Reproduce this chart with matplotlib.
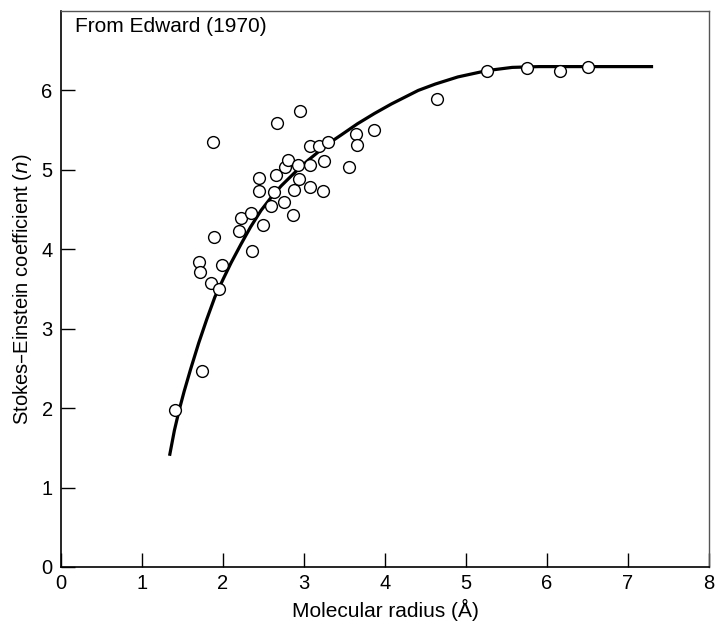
import matplotlib
matplotlib.use("Agg")
import matplotlib.pyplot as plt

plt.rcParams['font.family'] = ['Liberation Sans', 'DejaVu Sans']

# measured points (molecular radius in Angstrom, Stokes-Einstein coefficient n)
radius = [1.41, 1.745, 1.70, 1.71, 1.85, 1.95, 1.99, 1.89, 1.88,
          2.20, 2.22, 2.35, 2.36, 2.49, 2.44, 2.45, 2.59, 2.63, 2.66,
          2.67, 2.75, 2.76, 2.80, 2.86, 2.88, 2.92, 2.94, 2.95,
          3.07, 3.07, 3.08, 3.19, 3.23, 3.25, 3.30, 3.56, 3.64, 3.66,
          3.86, 4.64, 5.26, 5.75, 6.16, 6.51]
coeff = [1.98, 2.47, 3.84, 3.71, 3.57, 3.50, 3.80, 4.16, 5.35,
         4.23, 4.40, 4.46, 3.98, 4.30, 4.90, 4.74, 4.54, 4.72, 4.94,
         5.59, 4.59, 5.04, 5.12, 4.43, 4.75, 5.06, 4.88, 5.74,
         5.30, 5.06, 4.79, 5.30, 4.73, 5.11, 5.35, 5.04, 5.45, 5.31,
         5.50, 5.89, 6.25, 6.28, 6.25, 6.29]

# fitted curve
curve_x = [1.34, 1.40, 1.46, 1.52, 1.60, 1.70, 1.80, 1.90, 2.00, 2.10,
           2.22, 2.34, 2.47, 2.60, 2.72, 2.88, 3.05, 3.30, 3.46, 3.66,
           3.87, 4.08, 4.41, 4.62, 4.90, 5.26, 5.57, 5.90, 7.31]
curve_y = [1.40, 1.72, 1.98, 2.21, 2.49, 2.82, 3.12, 3.40, 3.62, 3.83,
           4.06, 4.28, 4.49, 4.66, 4.80, 4.96, 5.12, 5.33, 5.44, 5.58,
           5.71, 5.83, 6.00, 6.08, 6.17, 6.25, 6.29, 6.30, 6.30]

fig = plt.figure(figsize=(7.15, 6.27), dpi=100)
ax = fig.add_axes([61/715, 60/627, (709-61)/715, (616-60)/627])

ax.plot(curve_x, curve_y, color='black', linewidth=2.3, solid_capstyle='butt',
        solid_joinstyle='round', zorder=2)
ax.plot(radius, coeff, linestyle='none', marker='o', markersize=8.5,
        markerfacecolor='white', markeredgecolor='black', markeredgewidth=1.0, zorder=3)

ax.set_xlim(0, 8)
ax.set_ylim(0, 7)
ax.set_xticks(range(0, 9))
ax.set_yticks(range(0, 7))
ax.tick_params(direction='in', length=10, width=1, labelsize=14.5,
               top=False, right=False)
ax.tick_params(axis='x', pad=5)
ax.tick_params(axis='y', pad=6)
for side in ['left', 'bottom']:
    ax.spines[side].set_linewidth(1.2)
for side in ['top', 'right']:
    ax.spines[side].set_linewidth(1.0)
    ax.spines[side].set_color('#555555')

ax.set_xlabel('Molecular radius (Å)', fontsize=15, labelpad=4)
ax.set_ylabel('Stokes–Einstein coefficient ($\\it{n}$)', fontsize=14.5, labelpad=5)
ax.text(0.021, 0.99, 'From Edward (1970)', transform=ax.transAxes,
        ha='left', va='top', fontsize=15)

fig.savefig('out.png', dpi=100)
